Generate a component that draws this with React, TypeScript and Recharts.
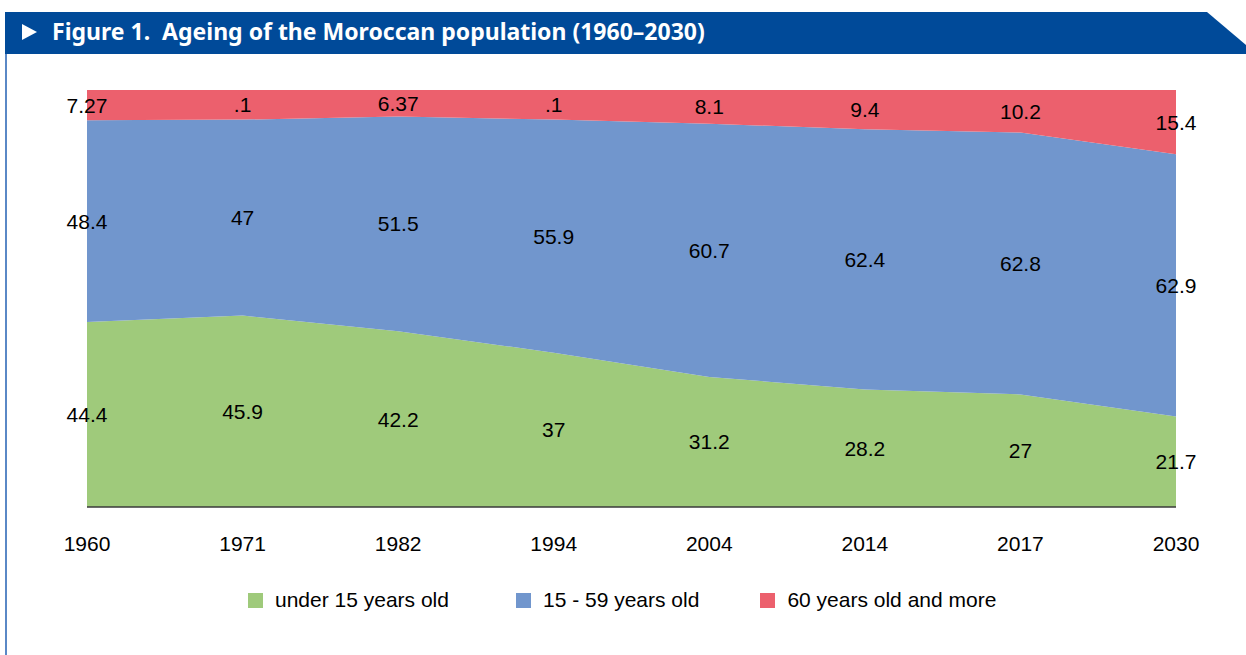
import React from 'react';
import { AreaChart, Area, Line, XAxis, YAxis, Legend, LabelList } from 'recharts';

const years = ['1960', '1971', '1982', '1994', '2004', '2014', '2017', '2030'];
const under15 = [44.4, 45.9, 42.2, 37, 31.2, 28.2, 27, 21.7];
const age15to59 = [48.4, 47, 51.5, 55.9, 60.7, 62.4, 62.8, 62.9];
const over60 = [7.27, 7.1, 6.37, 7.1, 8.1, 9.4, 10.2, 15.4];
const under15Labels = ['44.4', '45.9', '42.2', '37', '31.2', '28.2', '27', '21.7'];
const age15to59Labels = ['48.4', '47', '51.5', '55.9', '60.7', '62.4', '62.8', '62.9'];
const over60Labels = ['7.27', '.1', '6.37', '.1', '8.1', '9.4', '10.2', '15.4'];

const seriesNames = ['under 15 years old', '15 - 59 years old', '60 years old and more'];
const colors = ['#9fca7b', '#7196cd', '#ec606d'];

const data = years.map((year, i) => {
  const total = under15[i] + age15to59[i] + over60[i];
  return {
    year,
    u15: under15[i],
    mid: age15to59[i],
    old: over60[i],
    u15Pos: under15[i] / 2 / total,
    midPos: (under15[i] + age15to59[i] / 2) / total,
    oldPos: (under15[i] + age15to59[i] + over60[i] / 2) / total,
    u15Label: under15Labels[i],
    midLabel: age15to59Labels[i],
    oldLabel: over60Labels[i],
  };
});

const CenterLabel = (props: any) => {
  const { x, y, value } = props;
  return (
    <text x={x} y={y} textAnchor="middle" dominantBaseline="central" fontSize={21} fill="#000" fontFamily="'Liberation Sans', Arial, sans-serif">
      {value}
    </text>
  );
};

const CustomLegend = () => (
  <div style={{ display: 'flex', justifyContent: 'flex-start', alignItems: 'center', height: 24, fontSize: 21, fontFamily: "'Liberation Sans', Arial, sans-serif", color: '#000', paddingLeft: 248 }}>
    {seriesNames.map((name, i) => (
      <div key={name} style={{ display: 'flex', alignItems: 'center', marginRight: i === 0 ? 67 : 61 }}>
        <span style={{ display: 'inline-block', width: 15, height: 15, background: colors[i], marginRight: 12 }} />
        <span>{name}</span>
      </div>
    ))}
  </div>
);

export default function App() {
  return (
    <div style={{ position: 'absolute', left: 0, top: 0, width: 1246, height: 655, background: '#fff', overflow: 'hidden' }}>
      <svg width={1246} height={655} style={{ position: 'absolute', left: 0, top: 0 }}>
        <polygon points="5,12 1207,12 1246,45 1246,54 5,54" fill="#004a99" />
        <rect x={5} y={54} width={2} height={601} fill="#5a88c6" />
        <polygon points="22,24 37,32 22,40" fill="#fff" />
        <text x={52} y={40} fill="#fff" fontSize={23} fontWeight="bold" fontFamily="'Noto Sans', 'Open Sans', sans-serif">
          Figure 1.&#160; Ageing of the Moroccan population (1960–2030)
        </text>
      </svg>
      <div style={{ position: 'absolute', left: 0, top: 0 }}>
        <AreaChart
          width={1246}
          height={655}
          data={data}
          stackOffset="expand"
          margin={{ top: 90, right: 70, left: 87, bottom: 43 }}
          style={{ fontFamily: "'Liberation Sans', Arial, sans-serif" }}
        >
          <XAxis
            dataKey="year"
            height={81}
            tickLine={false}
            tickMargin={23}
            axisLine={{ stroke: '#3a3a3a', strokeWidth: 1.5 }}
            tick={{ fill: '#000', fontSize: 21 }}
            interval={0}
          />
          <YAxis hide domain={[0, 1]} allowDataOverflow />
          <Area type="linear" dataKey="u15" name={seriesNames[0]} stackId="1" stroke="none" fill={colors[0]} fillOpacity={1} isAnimationActive={false} />
          <Area type="linear" dataKey="mid" name={seriesNames[1]} stackId="1" stroke="none" fill={colors[1]} fillOpacity={1} isAnimationActive={false} />
          <Area type="linear" dataKey="old" name={seriesNames[2]} stackId="1" stroke="none" fill={colors[2]} fillOpacity={1} isAnimationActive={false} />
          <Line type="linear" dataKey="u15Pos" stroke="none" dot={false} activeDot={false} legendType="none" isAnimationActive={false}>
            <LabelList dataKey="u15Label" content={CenterLabel} />
          </Line>
          <Line type="linear" dataKey="midPos" stroke="none" dot={false} activeDot={false} legendType="none" isAnimationActive={false}>
            <LabelList dataKey="midLabel" content={CenterLabel} />
          </Line>
          <Line type="linear" dataKey="oldPos" stroke="none" dot={false} activeDot={false} legendType="none" isAnimationActive={false}>
            <LabelList dataKey="oldLabel" content={CenterLabel} />
          </Line>
          <Legend verticalAlign="bottom" align="left" height={24} wrapperStyle={{ left: 0, width: 1246 }} content={CustomLegend} />
        </AreaChart>
      </div>
    </div>
  );
}
